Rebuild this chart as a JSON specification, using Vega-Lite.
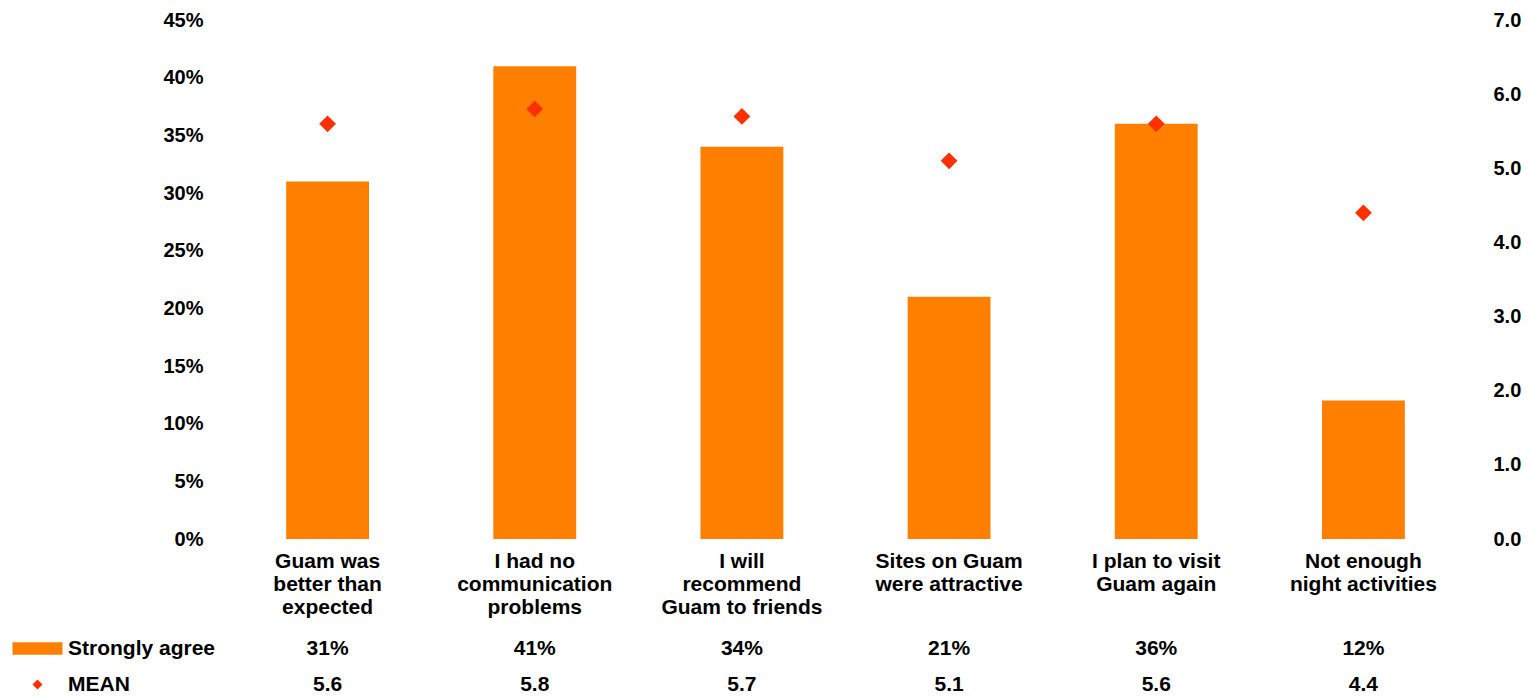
{
  "$schema": "https://vega.github.io/schema/vega-lite/v6.json",
  "background": "white",
  "padding": {"left": 25, "top": 10, "right": 5, "bottom": 5},
  "config": {
    "font": "Liberation Sans",
    "view": {"stroke": null},
    "axis": {"labelFont": "Liberation Sans", "labelFontWeight": "bold", "labelFontSize": 20, "labelColor": "black", "grid": false, "domain": false, "ticks": false, "title": null},
    "legend": {"labelFont": "Liberation Sans", "labelFontWeight": "bold", "labelFontSize": 21, "labelColor": "black"}
  },
  "datasets": {
    "survey": [
      {"statement": "Guam was better than expected", "strongly_agree": 0.31, "mean": 5.6},
      {"statement": "I had no communication problems", "strongly_agree": 0.41, "mean": 5.8},
      {"statement": "I will recommend Guam to friends", "strongly_agree": 0.34, "mean": 5.7},
      {"statement": "Sites on Guam were attractive", "strongly_agree": 0.21, "mean": 5.1},
      {"statement": "I plan to visit Guam again", "strongly_agree": 0.36, "mean": 5.6},
      {"statement": "Not enough night activities", "strongly_agree": 0.12, "mean": 4.4}
    ]
  },
  "spacing": 14,
  "vconcat": [
    {
      "width": 1243,
      "height": 519,
      "data": {"name": "survey"},
      "encoding": {
        "x": {
          "field": "statement", "type": "nominal", "sort": null,
          "scale": {"paddingInner": 0.6, "paddingOuter": 0.3},
          "axis": {
            "labelAngle": 0, "labelPadding": 11, "labelLineHeight": 23, "labelLimit": 300, "labelFontSize": 21,
            "labelExpr": "datum.value == 'Guam was better than expected' ? ['Guam was','better than','expected'] : datum.value == 'I had no communication problems' ? ['I had no','communication','problems'] : datum.value == 'I will recommend Guam to friends' ? ['I will','recommend','Guam to friends'] : datum.value == 'Sites on Guam were attractive' ? ['Sites on Guam','were attractive'] : datum.value == 'I plan to visit Guam again' ? ['I plan to visit','Guam again'] : ['Not enough','night activities']"
          }
        }
      },
      "layer": [
        {
          "mark": {"type": "bar"},
          "encoding": {
            "y": {
              "field": "strongly_agree", "type": "quantitative",
              "scale": {"domain": [0, 0.45]},
              "axis": {"format": ".0%", "values": [0, 0.05, 0.1, 0.15, 0.2, 0.25, 0.3, 0.35, 0.4, 0.45], "labelPadding": 21}
            },
            "color": {
              "datum": "Strongly agree", "type": "nominal",
              "scale": {"domain": ["Strongly agree", "MEAN"], "range": ["#FF8000", "#FF3000"]},
              "legend": {
                "title": null, "orient": "none", "legendX": -199, "legendY": 616,
                "symbolSize": 625, "rowPadding": 13, "labelOffset": 18,
                "symbolStrokeWidth": 0, "symbolOpacity": 1,
                "encode": {"symbols": {"update": {"shape": {"signal": "datum.value == 'MEAN' ? 'M0,-0.4L0.4,0L0,0.4L-0.4,0Z' : 'M-2,-0.5H2V0.5H-2Z'"}, "fill": {"signal": "datum.value == 'MEAN' ? '#FF3000' : '#FF8000'"}}}}
              }
            }
          }
        },
        {
          "mark": {"type": "point", "shape": "diamond", "filled": true, "size": 280, "opacity": 1},
          "encoding": {
            "y": {
              "field": "mean", "type": "quantitative",
              "scale": {"domain": [0, 7]},
              "axis": {"orient": "right", "format": ".1f", "values": [0, 1, 2, 3, 4, 5, 6, 7], "labelPadding": 26}
            },
            "color": {"datum": "MEAN", "type": "nominal"}
          }
        }
      ],
      "resolve": {"scale": {"y": "independent"}}
    },
    {
      "width": 1243,
      "height": 72,
      "data": {"name": "survey"},
      "encoding": {
        "x": {"field": "statement", "type": "nominal", "sort": null, "scale": {"paddingInner": 0.6, "paddingOuter": 0.3}, "axis": null}
      },
      "layer": [
        {
          "mark": {"type": "text", "font": "Liberation Sans", "fontWeight": "bold", "fontSize": 21, "color": "black"},
          "encoding": {
            "y": {"datum": "Strongly agree", "type": "nominal", "scale": {"domain": ["Strongly agree", "MEAN"], "padding": 0.5}, "axis": null},
            "text": {"field": "strongly_agree", "type": "quantitative", "format": ".0%"}
          }
        },
        {
          "mark": {"type": "text", "font": "Liberation Sans", "fontWeight": "bold", "fontSize": 21, "color": "black"},
          "encoding": {
            "y": {"datum": "MEAN", "type": "nominal"},
            "text": {"field": "mean", "type": "quantitative", "format": ".1f"}
          }
        }
      ]
    }
  ]
}
